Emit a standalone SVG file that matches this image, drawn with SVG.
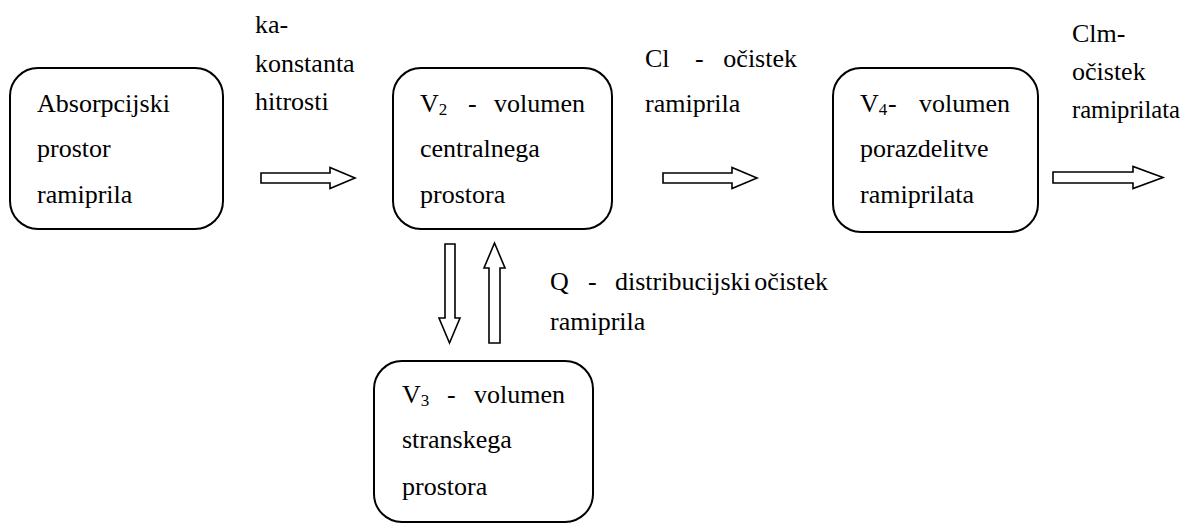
<svg xmlns="http://www.w3.org/2000/svg" width="1182" height="526" viewBox="0 0 1182 526">
<rect width="1182" height="526" fill="#fff"/>
<g id="node-absorpcijski">
<rect x="10" y="68" width="213" height="161" rx="28" fill="#fff" stroke="#000" stroke-width="2"/>
<text style="font-family:'Liberation Serif';font-size:26px" x="37" y="112">Absorpcijski</text>
<text style="font-family:'Liberation Serif';font-size:26px" x="37" y="157">prostor</text>
<text style="font-family:'Liberation Serif';font-size:26px" x="37" y="203">ramiprila</text>
</g>
<g id="node-v2">
<rect x="393" y="68" width="219" height="161" rx="28" fill="#fff" stroke="#000" stroke-width="2"/>
<text style="font-family:'Liberation Serif';font-size:26px" x="420" y="112">V<tspan style="font-size:17px" dy="3">2</tspan></text>
<text style="font-family:'Liberation Serif';font-size:26px" x="468" y="112">-</text>
<text style="font-family:'Liberation Serif';font-size:26px" x="585" y="112" text-anchor="end">volumen</text>
<text style="font-family:'Liberation Serif';font-size:26px" x="420" y="157">centralnega</text>
<text style="font-family:'Liberation Serif';font-size:26px" x="420" y="203">prostora</text>
</g>
<g id="node-v4">
<rect x="833" y="68" width="205" height="164" rx="28" fill="#fff" stroke="#000" stroke-width="2"/>
<text style="font-family:'Liberation Serif';font-size:26px" x="860" y="112">V<tspan style="font-size:17px" dy="3">4</tspan></text>
<text style="font-family:'Liberation Serif';font-size:26px" x="888" y="112">-</text>
<text style="font-family:'Liberation Serif';font-size:26px" x="1010" y="112" text-anchor="end">volumen</text>
<text style="font-family:'Liberation Serif';font-size:26px" x="860" y="157">porazdelitve</text>
<text style="font-family:'Liberation Serif';font-size:26px" x="860" y="203">ramiprilata</text>
</g>
<g id="node-v3">
<rect x="374" y="361" width="219" height="161" rx="28" fill="#fff" stroke="#000" stroke-width="2"/>
<text style="font-family:'Liberation Serif';font-size:26px" x="402" y="403">V<tspan style="font-size:17px" dy="3">3</tspan></text>
<text style="font-family:'Liberation Serif';font-size:26px" x="447" y="403">-</text>
<text style="font-family:'Liberation Serif';font-size:26px" x="565" y="403" text-anchor="end">volumen</text>
<text style="font-family:'Liberation Serif';font-size:26px" x="402" y="448">stranskega</text>
<text style="font-family:'Liberation Serif';font-size:26px" x="402" y="495">prostora</text>
</g>
<g id="connectors" fill="#fff" stroke="#000" stroke-width="1.6">
<path d="M261,173 H330 V167.5 L355,178 L330,188.5 V183 H261 Z"/>
<path d="M663,173 H732 V167.5 L757,178 L732,188.5 V183 H663 Z"/>
<path d="M1053,172 H1133 V166.5 L1163,177.5 L1133,188.5 V183 H1053 Z"/>
<path d="M445,244 H455 V318 H460 L449.5,343 L439,318 H445 Z"/>
<path d="M489,343 V268 H484 L494.5,243 L505,268 H500 V343 Z"/>
</g>
<g id="labels">
<text style="font-family:'Liberation Serif';font-size:26px" x="255" y="33">ka-</text>
<text style="font-family:'Liberation Serif';font-size:26px" x="255" y="72">konstanta</text>
<text style="font-family:'Liberation Serif';font-size:26px" x="255" y="110">hitrosti</text>
<text style="font-family:'Liberation Serif';font-size:26px" x="645" y="67">Cl</text>
<text style="font-family:'Liberation Serif';font-size:26px" x="695" y="67">-</text>
<text style="font-family:'Liberation Serif';font-size:26px" x="797" y="67" text-anchor="end">očistek</text>
<text style="font-family:'Liberation Serif';font-size:26px" x="645" y="112">ramiprila</text>
<text style="font-family:'Liberation Serif';font-size:26px" x="1072" y="42">Clm-</text>
<text style="font-family:'Liberation Serif';font-size:26px" x="1072" y="80">očistek</text>
<text style="font-family:'Liberation Serif';font-size:26px" x="1072" y="118" textLength="108" lengthAdjust="spacingAndGlyphs">ramiprilata</text>
<text style="font-family:'Liberation Serif';font-size:26px" x="550" y="290">Q</text>
<text style="font-family:'Liberation Serif';font-size:26px" x="588" y="290">-</text>
<text style="font-family:'Liberation Serif';font-size:26px" x="615" y="290">distribucijski</text>
<text style="font-family:'Liberation Serif';font-size:26px" x="828" y="290" text-anchor="end">očistek</text>
<text style="font-family:'Liberation Serif';font-size:26px" x="550" y="330">ramiprila</text>
</g>
</svg>
